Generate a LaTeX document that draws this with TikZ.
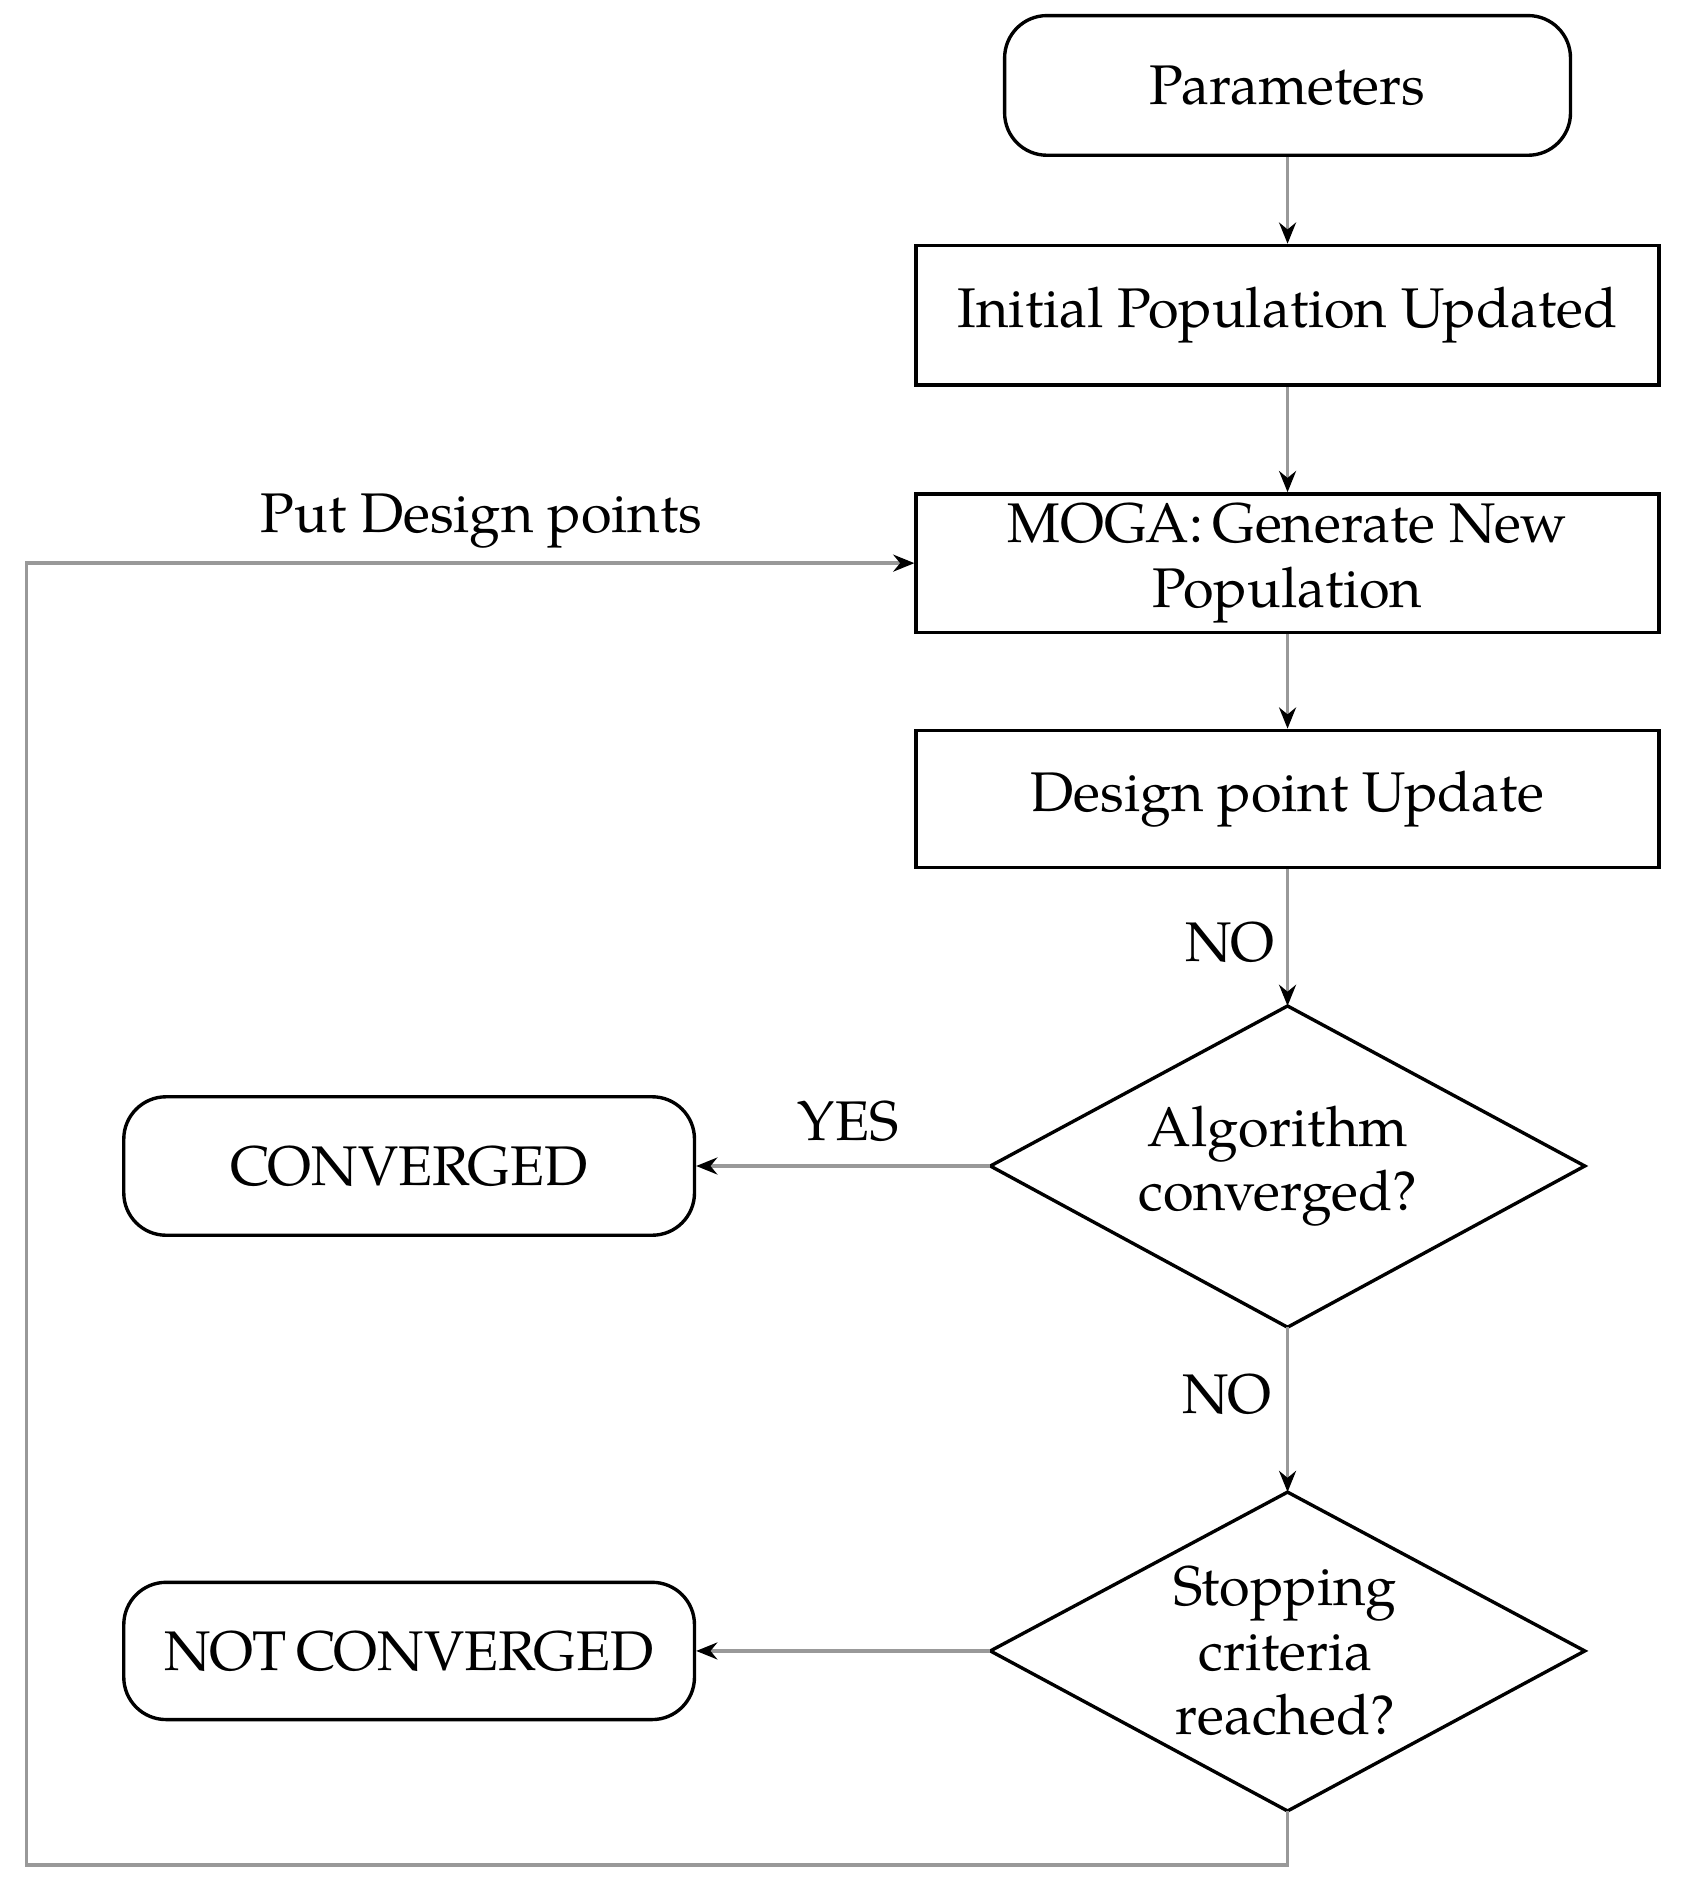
\documentclass[tikz,border=0pt]{standalone}
\usepackage{fontspec}
\setmainfont{TeX Gyre Pagella}
\usetikzlibrary{shapes.geometric,arrows.meta}
\begin{document}
\begin{tikzpicture}[x=0.01cm,y=-0.01cm,
  every node/.style={font=\fontsize{13.2}{15.3}\selectfont},
  rbox/.style={draw,line width=0.8pt,rounded corners=10pt,inner sep=0pt},
  sbox/.style={draw,line width=0.8pt,inner sep=0pt,minimum width=6.17cm,align=center},
  conn/.style={draw=gray!80,line width=0.8pt,-{Stealth[black,length=5pt,width=4pt]}},
  lbl/.style={inner sep=0pt}]
\useasboundingbox (0,0) rectangle (1406,1574);
\node[rbox,minimum width=4.70cm,minimum height=1.16cm] (par) at (1070,71) {Parameters};
\node[sbox,minimum height=1.16cm] (init) at (1070,262) {Initial Population Updated};
\node[sbox,minimum height=1.15cm] (moga) at (1070,468) {MOGA:\,Generate New\\Population};
\node[sbox,minimum height=1.14cm] (des) at (1070,664) {Design point Update};
\draw[line width=0.8pt] (823,969) coordinate (d1w) -- (1070,836) coordinate (d1n) -- (1317,969) -- (1070,1103) coordinate (d1s) -- cycle;
\node[align=center,lbl] (d1) at (1062,969) {Algorithm\\converged?};
\draw[line width=0.8pt] (823,1372) coordinate (d2w) -- (1070,1240) coordinate (d2n) -- (1317,1372) -- (1070,1505) coordinate (d2s) -- cycle;
\node[align=center,lbl] (d2) at (1068,1372) {Stopping\\criteria\\reached?};
\node[rbox,minimum width=4.74cm,minimum height=1.15cm] (conv) at (340,969) {CONVERGED};
\node[rbox,minimum width=4.74cm,minimum height=1.14cm] (nconv) at (340,1372) {NOT\,CONVERGED};
\draw[conn] (par) -- (init);
\draw[conn] (init) -- (moga);
\draw[conn] (moga) -- (des);
\draw[conn] (des) -- (d1n);
\draw[conn] (d1s) -- (d2n);
\draw[conn] (d1w) -- (conv);
\draw[conn] (d2w) -- (nconv);
\coordinate (c1) at (1070,1550);
\coordinate (c2) at (22,1550);
\coordinate (c3) at (22,468);
\draw[conn] (d2s) -- (c1) -- (c2) -- (c3) -- (moga.west);
\node[lbl] at (400,433) {Put Design points};
\node[lbl] at (1022,783) {NO};
\node[lbl] at (705,932) {YES};
\node[lbl] at (1020,1159) {NO};
\end{tikzpicture}
\end{document}
